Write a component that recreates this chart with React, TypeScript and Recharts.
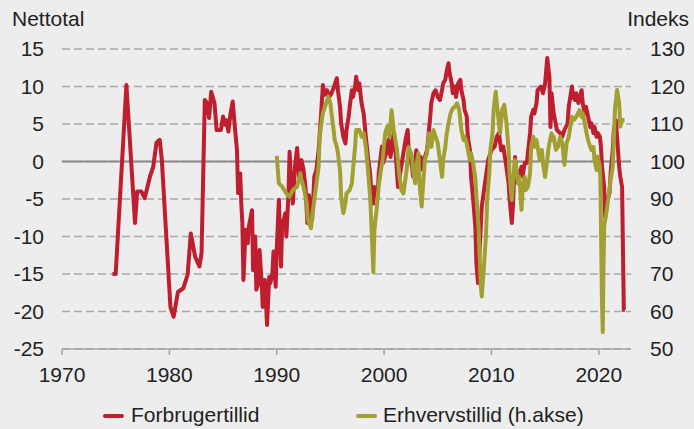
import React from 'react';
import { LineChart, Line, XAxis, YAxis, CartesianGrid, ReferenceLine } from 'recharts';

const RED = '#be1e2d';
const OLIVE = '#a29f33';
const FONT = '"Liberation Sans", Arial, sans-serif';

const xTicks = [1970, 1980, 1990, 2000, 2010, 2020];
const leftTicks = [-25, -20, -15, -10, -5, 0, 5, 10, 15];
const rightTicks = [50, 60, 70, 80, 90, 100, 110, 120, 130];

const seriesNames = ['Forbrugertillid', 'Erhvervstillid (h.akse)'];

// Forbrugertillid (nettotal, left axis)
const consumerYears = [
  1974.7, 1975.0, 1976.0, 1976.8, 1977.0, 1977.4, 1977.7, 1978.2, 1978.5, 1978.8,
  1979.1, 1979.3, 1980.1, 1980.4, 1980.8, 1981.3, 1981.7, 1982.0, 1982.4, 1982.8,
  1983.0, 1983.3, 1983.5, 1983.7, 1983.9, 1984.2, 1984.4, 1984.8, 1985.0, 1985.2,
  1985.3, 1985.5, 1985.7, 1985.9, 1986.1, 1986.3, 1986.4, 1986.6, 1986.7, 1986.8,
  1986.9, 1987.1, 1987.3, 1987.4, 1987.7, 1987.8, 1988.0, 1988.1, 1988.3, 1988.4,
  1988.6, 1988.7, 1988.8, 1988.9, 1989.1, 1989.3, 1989.4, 1989.6, 1989.7, 1989.9,
  1990.0, 1990.2, 1990.4, 1990.5, 1990.8, 1990.9, 1991.1, 1991.2, 1991.35, 1991.5,
  1991.7, 1991.9, 1992.1, 1992.3, 1992.5, 1992.7, 1992.85, 1993.0, 1993.3, 1993.5,
  1993.7, 1993.9, 1994.1, 1994.3, 1994.5, 1994.7, 1994.9, 1995.1, 1995.3, 1995.6,
  1995.7, 1995.9, 1996.0, 1996.2, 1996.4, 1996.5, 1996.7, 1996.8, 1997.0, 1997.1,
  1997.3, 1997.4, 1997.6, 1997.7, 1997.9, 1998.1, 1998.3, 1998.5, 1998.7, 1998.8,
  1999.0, 1999.1, 1999.4, 1999.5, 1999.8, 1999.9, 2000.2, 2000.4, 2000.6, 2000.8,
  2000.9, 2001.1, 2001.3, 2001.5, 2001.7, 2002.0, 2002.2, 2002.3, 2002.6, 2002.7,
  2002.9, 2003.0, 2003.2, 2003.4, 2003.6, 2003.8, 2004.0, 2004.1, 2004.3, 2004.4,
  2004.6, 2004.8, 2005.0, 2005.2, 2005.4, 2005.5, 2005.7, 2005.8, 2006.0, 2006.1,
  2006.3, 2006.4, 2006.6, 2006.7, 2006.9, 2007.1, 2007.2, 2007.4, 2007.5, 2007.7,
  2007.8, 2008.0, 2008.1, 2008.3, 2008.5, 2008.6, 2008.75, 2008.9, 2009.1, 2009.4,
  2009.7, 2010.0, 2010.3, 2010.5, 2010.7, 2010.9, 2011.1, 2011.3, 2011.6, 2011.7,
  2011.9, 2012.0, 2012.2, 2012.3, 2012.5, 2012.6, 2012.8, 2012.9, 2013.1, 2013.3,
  2013.6, 2013.7, 2013.9, 2014.0, 2014.2, 2014.3, 2014.6, 2014.8, 2015.0, 2015.2,
  2015.4, 2015.5, 2015.6, 2015.8, 2016.1, 2016.4, 2016.6, 2016.8, 2017.1, 2017.2,
  2017.5, 2017.6, 2017.8, 2017.9, 2018.1, 2018.2, 2018.4, 2018.5, 2018.7, 2018.8,
  2019.0, 2019.2, 2019.3, 2019.5, 2019.6, 2019.8, 2019.9, 2020.1, 2020.2, 2020.3,
  2020.5, 2020.6, 2020.8, 2021.0, 2021.1, 2021.3, 2021.4, 2021.6, 2021.7, 2021.9,
  2022.0, 2022.17, 2022.33, 2022.42,
];
const consumerValues = [
  -15, -15, 10.2, -8.2, -4.0, -4.0, -4.9, -2.0, -0.7, 2.5,
  2.9, 0.2, -19.4, -20.7, -17.4, -16.9, -15.1, -9.6, -12.7, -14.0,
  -12.2, 8.2, 7.8, 5.8, 9.3, 7.8, 4.2, 4.2, 6.0, 4.9,
  5.5, 4.0, 6.4, 8.0, 4.6, 1.5, -4.2, -1.6, -5.6, -8.2,
  -15.8, -9.1, -10.9, -8.7, -6.5, -14.5, -10.0, -17.1, -16.2, -11.8,
  -16.2, -19.4, -16.7, -15.8, -21.8, -15.4, -16.2, -14.9, -12.0, -16.7,
  -11.8, -5.1, -14.0, -8.7, -6.9, -10.0, -4.2, 1.3, -2.9, -5.6,
  -0.7, 1.8, -2.5, 0.2, -1.1, -3.8, -8.2, -4.5, -7.8, -2.0,
  -1.1, 1.5, 5.5, 10.2, 8.9, 9.5, 8.6, 9.1, 9.8, 11.1,
  9.5, 7.3, 5.1, 3.3, 2.4, 4.2, 6.0, 7.3, 9.5, 8.6,
  10.0, 11.3, 9.5, 10.4, 7.8, 6.4, 3.3, 0.6, -1.6, -3.8,
  -5.6, -3.4, -4.7, -1.6, 2.0, -0.2, 1.1, 2.9, 0.6, 2.9,
  3.8, 0.6, -3.4, -1.6, 0.2, 2.9, 4.2, 1.5, -0.7, -2.0,
  0.2, 1.5, -0.7, 0.6, -1.1, 0.6, 1.5, 2.9, 6.0, 7.8,
  9.1, 9.5, 8.6, 8.2, 9.5, 10.4, 10.9, 11.8, 13.1, 11.8,
  10.4, 9.1, 10.0, 8.6, 10.4, 10.9, 9.5, 8.2, 6.9, 6.0,
  3.3, 1.5, -2.0, -5.1, -8.7, -13.6, -16.2, -11.8, -6.0, -2.9,
  0.2, 1.5, 2.0, 3.3, 3.8, 1.5, 2.0, 0.2, -2.9, -5.1,
  -8.2, -6.0, 0.6, -1.6, -2.9, -1.6, -0.7, -2.0, -0.2, -0.2,
  3.8, 6.0, 6.9, 6.4, 7.8, 9.5, 10.0, 9.1, 10.4, 13.8,
  11.3, 4.6, 9.1, 6.4, 4.2, 3.8, 3.3, 4.2, 5.1, 7.3,
  10.0, 8.6, 8.2, 9.1, 7.8, 8.4, 9.5, 7.8, 6.4, 7.3,
  6.0, 4.6, 5.1, 3.8, 4.6, 3.3, 3.8, 3.3, 2.0, -0.7,
  -3.4, -7.4, -5.1, -4.2, -1.6, 1.5, 4.2, 5.5, 3.3, -0.7,
  -2.0, -3.4, -19.8, -19.8,
];

// Erhvervstillid (indeks, right axis)
const businessYears = [
  1990.0, 1990.2, 1990.5, 1990.9, 1991.2, 1991.5, 1991.9, 1992.2, 1992.3, 1992.5,
  1992.8, 1992.9, 1993.2, 1993.3, 1993.5, 1993.7, 1993.9, 1994.0, 1994.2, 1994.3,
  1994.6, 1994.8, 1995.0, 1995.1, 1995.3, 1995.4, 1995.6, 1995.7, 1995.9, 1996.0,
  1996.2, 1996.4, 1996.5, 1996.8, 1997.0, 1997.1, 1997.3, 1997.4, 1997.7, 1997.9,
  1998.1, 1998.3, 1998.5, 1998.7, 1998.8, 1999.0, 1999.1, 1999.3, 1999.5, 1999.7,
  1999.85, 2000.1, 2000.3, 2000.5, 2000.7, 2000.9, 2001.2, 2001.4, 2001.6, 2001.8,
  2002.1, 2002.3, 2002.6, 2002.7, 2002.9, 2003.0, 2003.2, 2003.3, 2003.5, 2003.6,
  2003.8, 2004.0, 2004.2, 2004.4, 2004.6, 2004.8, 2005.0, 2005.2, 2005.4, 2005.5,
  2005.7, 2005.8, 2006.0, 2006.2, 2006.4, 2006.6, 2006.8, 2007.0, 2007.2, 2007.4,
  2007.5, 2007.7, 2007.8, 2008.0, 2008.1, 2008.3, 2008.5, 2008.6, 2008.8, 2008.9,
  2009.0, 2009.1, 2009.3, 2009.5, 2009.6, 2009.8, 2009.9, 2010.1, 2010.2, 2010.4,
  2010.5, 2010.7, 2010.8, 2011.0, 2011.2, 2011.4, 2011.6, 2011.7, 2011.9, 2012.0,
  2012.2, 2012.3, 2012.5, 2012.6, 2012.8, 2012.9, 2013.1, 2013.2, 2013.4, 2013.6,
  2013.7, 2013.9, 2014.0, 2014.2, 2014.3, 2014.5, 2014.7, 2014.8, 2015.0, 2015.2,
  2015.3, 2015.4, 2015.6, 2015.7, 2015.8, 2016.0, 2016.2, 2016.4, 2016.6, 2016.8,
  2017.0, 2017.2, 2017.5, 2017.7, 2017.9, 2018.2, 2018.4, 2018.5, 2018.7, 2018.8,
  2019.0, 2019.2, 2019.3, 2019.5, 2019.6, 2019.8, 2019.9, 2020.1, 2020.15, 2020.22,
  2020.3, 2020.37, 2020.43, 2020.5, 2020.7, 2020.9, 2021.1, 2021.3, 2021.4, 2021.5,
  2021.7, 2021.9, 2022.0, 2022.2, 2022.4,
];
const businessValues = [
  101.5, 94.2, 93.3, 91.5, 90.6, 92.4, 93.3, 96.9, 95.1, 93.3,
  88.9, 84.4, 82.2, 85.3, 89.7, 94.2, 98.6, 106.6, 111.1, 112.9,
  115.5, 117.3, 115.5, 112.9, 108.4, 105.7, 103.9, 102.2, 97.7, 90.6,
  86.2, 88.9, 91.5, 92.4, 94.2, 97.7, 103.9, 108.4, 108.4, 106.6,
  107.5, 103.9, 97.7, 90.6, 84.4, 70.5, 81.7, 87.1, 93.3, 97.7,
  100.0, 107.5, 109.3, 106.6, 113.7, 108.4, 103.1, 96.9, 92.4, 91.5,
  97.7, 103.9, 101.3, 97.7, 94.2, 98.6, 102.2, 94.2, 88.0, 92.4,
  100.4, 102.2, 107.5, 103.9, 108.4, 106.6, 104.9, 100.4, 95.9, 100.4,
  103.9, 106.6, 110.2, 112.9, 114.2, 114.6, 115.5, 113.7, 108.4, 105.7,
  106.6, 104.9, 103.1, 100.4, 102.2, 99.5, 95.5, 90.6, 82.6, 74.6,
  67.5, 64.0, 71.9, 80.9, 89.7, 96.9, 103.1, 107.5, 113.7, 118.6,
  115.5, 110.2, 107.5, 113.7, 115.1, 110.2, 103.1, 95.9, 89.7, 94.2,
  100.4, 98.6, 94.2, 95.9, 87.1, 92.4, 95.9, 92.4, 93.3, 96.9,
  103.9, 106.6, 103.9, 105.7, 103.9, 100.4, 103.1, 99.5, 95.9, 100.4,
  103.1, 104.9, 107.5, 105.7, 106.6, 103.1, 103.9, 106.6, 104.9, 99.1,
  104.9, 106.6, 111.9, 111.1, 111.9, 113.7, 111.9, 112.9, 110.2, 108.4,
  105.7, 103.9, 103.1, 103.9, 100.4, 97.7, 101.3, 98.6, 95.1, 79.1,
  62.2, 54.5, 70.2, 82.6, 86.2, 90.6, 95.1, 98.6, 105.7, 113.7,
  119.1, 115.5, 109.3, 111.1, 111.1,
];

const consumerData = consumerYears.map((x, i) => ({ x, v: consumerValues[i] }));
const businessData = businessYears.map((x, i) => ({ x, v: businessValues[i] }));

const tickStyle = { fill: '#222', fontSize: 21, fontFamily: FONT };

export default function App() {
  return (
    <div
      style={{
        position: 'absolute',
        left: 0,
        top: 0,
        width: 694,
        height: 429,
        background: '#ededed',
        fontFamily: FONT,
        color: '#222',
        overflow: 'hidden',
      }}
    >
      <LineChart
        width={694}
        height={429}
        margin={{ top: 49, right: 0, left: 0, bottom: 40 }}
        style={{ position: 'absolute', left: 0, top: 0 }}
      >
        <CartesianGrid
          yAxisId="left"
          vertical={false}
          stroke="#a9a9a9"
          strokeWidth={1.3}
          strokeDasharray="8 4"
        />
        <XAxis
          type="number"
          dataKey="x"
          domain={[1970, 2023]}
          ticks={xTicks}
          allowDataOverflow
          height={40}
          stroke="#a3a3a3"
          strokeWidth={1.5}
          tickSize={6}
          tickMargin={12}
          tick={tickStyle}
        />
        <YAxis
          yAxisId="left"
          orientation="left"
          width={62}
          domain={[-25, 15]}
          ticks={leftTicks}
          axisLine={false}
          tickLine={false}
          tickSize={8}
          tickMargin={10}
          tick={tickStyle}
          interval={0}
        />
        <YAxis
          yAxisId="right"
          orientation="right"
          width={63}
          domain={[50, 130]}
          ticks={rightTicks}
          axisLine={false}
          tickLine={false}
          tickSize={8}
          tickMargin={11}
          tick={tickStyle}
          interval={0}
        />
        <ReferenceLine yAxisId="left" y={0} stroke="#8c8c8c" strokeWidth={2} />
        <Line
          yAxisId="left"
          data={consumerData}
          dataKey="v"
          name={seriesNames[0]}
          type="linear"
          stroke={RED}
          strokeWidth={4}
          strokeLinejoin="round"
          dot={false}
          isAnimationActive={false}
        />
        <Line
          yAxisId="right"
          data={businessData}
          dataKey="v"
          name={seriesNames[1]}
          type="linear"
          stroke={OLIVE}
          strokeWidth={4}
          strokeLinejoin="round"
          dot={false}
          isAnimationActive={false}
        />
      </LineChart>
      <div style={{ position: 'absolute', left: 12, top: 7, fontSize: 21, lineHeight: '24px' }}>Nettotal</div>
      <div style={{ position: 'absolute', right: 5, top: 7, fontSize: 21, lineHeight: '24px' }}>Indeks</div>
      <div style={{ position: 'absolute', left: 103, top: 414, width: 21, height: 4, background: RED, borderRadius: 2 }} />
      <div style={{ position: 'absolute', left: 131, top: 403, fontSize: 21, lineHeight: '24px', whiteSpace: 'nowrap' }}>
        {seriesNames[0]}
      </div>
      <div style={{ position: 'absolute', left: 356, top: 414, width: 21, height: 4, background: OLIVE, borderRadius: 2 }} />
      <div style={{ position: 'absolute', left: 383, top: 403, fontSize: 21, lineHeight: '24px', whiteSpace: 'nowrap' }}>
        {seriesNames[1]}
      </div>
    </div>
  );
}
